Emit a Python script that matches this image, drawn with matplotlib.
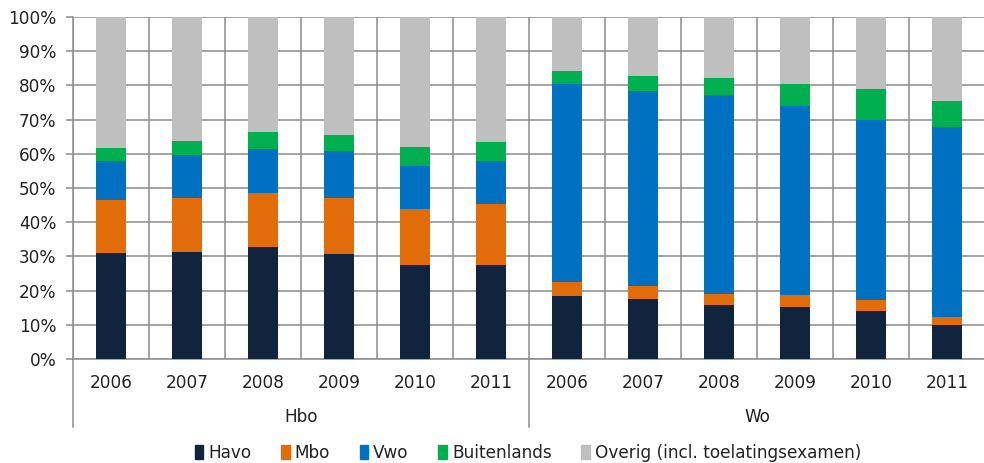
import numpy as np
import matplotlib
matplotlib.use("Agg")
import matplotlib.pyplot as plt
import matplotlib.patches as mpatches
import matplotlib.transforms as mtransforms

# ── Data (percent of inflow per prior education) ─────────────────────────
years = ["2006", "2007", "2008", "2009", "2010", "2011"]
groups = ["Hbo", "Wo"]
series = ["Havo", "Mbo", "Vwo", "Buitenlands", "Overig (incl. toelatingsexamen)"]

havo = [31.0, 31.2, 32.7, 30.8, 27.4, 27.4,
        18.3, 17.5, 15.7, 15.1, 13.9, 10.0]
mbo = [15.4, 15.8, 15.7, 16.2, 16.5, 18.0,
       4.1, 3.7, 3.4, 3.6, 3.3, 2.3]
vwo = [11.4, 12.6, 12.9, 13.7, 12.4, 12.4,
       58.1, 57.1, 58.0, 55.2, 52.6, 55.4]
buitenlands = [4.0, 4.2, 5.1, 4.8, 5.8, 5.7,
               3.8, 4.4, 5.2, 6.6, 9.2, 7.8]
overig = [38.2, 36.2, 33.6, 34.5, 37.9, 36.5,
          15.7, 17.3, 17.7, 19.5, 21.0, 24.5]

colors = ["#10243E", "#E36C0A", "#0070C0", "#00B050", "#BFBFBF"]
GRID = "#8C8C8C"
FS = 12.2

fig = plt.figure(figsize=(9.84, 4.63), dpi=100)
ax = fig.add_axes([73 / 984, (463 - 359) / 463, 912 / 984, 342 / 463])

x = np.arange(len(havo))
bottom = np.zeros(len(havo))
for name, vals, col in zip(series, [havo, mbo, vwo, buitenlands, overig], colors):
    vals = np.array(vals)
    ax.bar(x, vals, bottom=bottom, width=0.4, color=col, linewidth=0, zorder=3)
    bottom += vals

ax.set_xlim(-0.5, len(havo) - 0.5)
ax.set_ylim(0, 100)
ax.set_yticks(np.arange(0, 101, 10))
ax.set_yticklabels([f"{v}%" for v in range(0, 101, 10)], fontsize=FS, color="#222222")
ax.set_xticks([])
ax.set_xticks(np.arange(-0.5, len(havo), 1), minor=True)
ax.tick_params(axis="x", which="both", length=0)
ax.tick_params(axis="y", length=5, color=GRID, width=1.1, pad=7)

ax.grid(axis="y", color=GRID, linewidth=1.1, zorder=0)
ax.grid(axis="x", which="minor", color=GRID, linewidth=1.1, zorder=0)
for s in ["top", "right"]:
    ax.spines[s].set_visible(False)
for s in ["left", "bottom"]:
    ax.spines[s].set_color(GRID)
    ax.spines[s].set_linewidth(1.1)

# ── Category axis below the plot ─────────────────────────────────────────
trans = mtransforms.blended_transform_factory(ax.transData, ax.transAxes)
for xs in [-0.5, 5.5, 11.5]:
    ax.plot([xs, xs], [0, -0.2], color=GRID, linewidth=1.1,
            transform=trans, clip_on=False)

labels = years + years
for xi, lab in zip(x, labels):
    ax.text(xi, -24 / 342, lab, transform=trans, ha="center", va="center",
            fontsize=FS, color="#222222")
for gi, g in enumerate(groups):
    ax.text(gi * 6 + 2.5, -58 / 342, g, transform=trans, ha="center", va="center",
            fontsize=FS, color="#222222")

# ── Legend (centred under the plot area) ─────────────────────────────────
handles = [mpatches.Patch(color=c, label=n) for n, c in zip(series, colors)]
fig.legend(handles=handles, loc="center", bbox_to_anchor=(528 / 984, 1 - 453 / 463),
           ncol=5, frameon=False, fontsize=FS, handlelength=0.5, handleheight=0.85,
           handletextpad=0.3, columnspacing=1.75, labelcolor="#222222")

plt.savefig("out.png", dpi=100)
plt.close()
